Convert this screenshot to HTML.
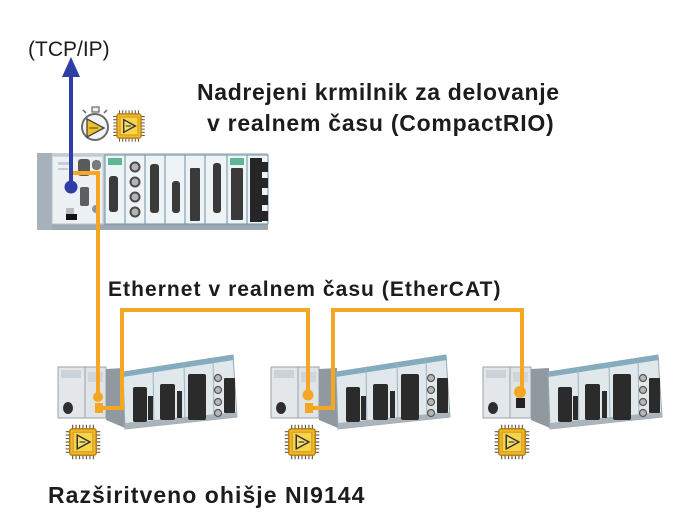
<!DOCTYPE html>
<html><head><meta charset="utf-8"><style>
html,body{margin:0;padding:0;background:#fff;}
svg{display:block;}
text{font-family:"Liberation Sans",Arial,sans-serif;fill:#1c1c1c;}
.b{font-weight:bold;}
</style></head><body>
<svg width="700" height="531" viewBox="0 0 700 531" xmlns="http://www.w3.org/2000/svg">
<defs>
  <g id="chip">
    <g stroke="#6b5a3a" stroke-width="1">
      <line x1="-9" y1="-15" x2="-9" y2="15"/><line x1="-6" y1="-15" x2="-6" y2="15"/><line x1="-3" y1="-15" x2="-3" y2="15"/><line x1="0" y1="-15" x2="0" y2="15"/><line x1="3" y1="-15" x2="3" y2="15"/><line x1="6" y1="-15" x2="6" y2="15"/><line x1="9" y1="-15" x2="9" y2="15"/>
      <line x1="-15" y1="-9" x2="15" y2="-9"/><line x1="-15" y1="-6" x2="15" y2="-6"/><line x1="-15" y1="-3" x2="15" y2="-3"/><line x1="-15" y1="0" x2="15" y2="0"/><line x1="-15" y1="3" x2="15" y2="3"/><line x1="-15" y1="6" x2="15" y2="6"/><line x1="-15" y1="9" x2="15" y2="9"/>
    </g>
    <rect x="-11.5" y="-11.5" width="23" height="23" rx="2" fill="#f0b92a" stroke="#b27a12" stroke-width="1.2"/>
    <rect x="-8.5" y="-8.5" width="17" height="17" fill="#f8d44a" stroke="#d69a1e" stroke-width="1"/>
    <polygon points="-5,-6 6,0 -5,6" fill="#f7e06a" stroke="#333" stroke-width="1.3"/>
    <line x1="-3" y1="0" x2="2" y2="0" stroke="#333" stroke-width="1"/>
  </g>
  <g id="chassis">
    <rect x="0" y="367" width="27" height="51" fill="#e3e7ea" stroke="#9aa3a9" stroke-width="1"/>
    <rect x="3" y="370" width="20" height="8" fill="#ccd3d8"/>
    <ellipse cx="10" cy="408" rx="5" ry="6" fill="#2e2e2e"/>
    <rect x="27" y="367" width="21" height="51" fill="#dfe4e7" stroke="#9aa3a9" stroke-width="1"/>
    <rect x="30" y="372" width="15" height="10" fill="#cfd6db"/>
    <polygon points="48,369 66,368 67,428 48,420" fill="#8f999f"/>
    <polygon points="65,372 175,355 179,417 67,429" fill="#e1e8ec" stroke="#9aa8b0" stroke-width="1"/>
    <polygon points="65,372 175,355 176,360 65,377" fill="#84abbe"/>
    <polygon points="67,423 179,412 179,417 67,429" fill="#aab4ba"/>
    <g stroke="#9db2bf" stroke-width="1">
      <line x1="95" y1="368" x2="96" y2="425"/>
      <line x1="126" y1="363" x2="127" y2="422"/>
      <line x1="155" y1="358" x2="156" y2="419"/>
    </g>
    <g fill="#2b2b2b">
      <rect x="75" y="387" width="14" height="35" rx="2"/>
      <rect x="90" y="396" width="5" height="24"/>
      <rect x="102" y="384" width="15" height="36" rx="2"/>
      <rect x="119" y="391" width="5" height="27"/>
      <rect x="130" y="374" width="18" height="46" rx="2"/>
      <rect x="166" y="378" width="11" height="35" rx="1"/>
    </g>
    <g fill="#b7b7b7" stroke="#555" stroke-width="1.2">
      <circle cx="160" cy="378" r="3.5"/><circle cx="160" cy="390" r="3.5"/><circle cx="160" cy="402" r="3.5"/><circle cx="160" cy="413" r="3.5"/>
    </g>
  </g>
</defs>

<!-- ===== Top CompactRIO ===== -->
<rect x="37" y="153" width="231" height="77" fill="#c6cfd6"/>
<rect x="37" y="224" width="231" height="6" fill="#9ea8b0"/>
<rect x="37" y="153" width="15" height="77" fill="#a7b1b9"/>
<rect x="52" y="156" width="51" height="68" fill="#eef1f3" stroke="#b8c0c6" stroke-width="1"/>
<rect x="78" y="159" width="12" height="17" rx="3" fill="#5a5a5a"/>
<rect x="92" y="160" width="9" height="10" rx="4" fill="#7a7a7a"/>
<rect x="80" y="187" width="9" height="19" rx="2" fill="#5e5e5e"/>
<rect x="66" y="208" width="8" height="9" fill="#b6bcc0"/>
<rect x="66" y="214" width="11" height="6" fill="#111"/>
<circle cx="96" cy="209" r="4" fill="#8d9398"/>
<rect x="58" y="162" width="14" height="3" fill="#c7cdd2"/>
<rect x="58" y="168" width="10" height="2" fill="#c7cdd2"/>
<g stroke="#6f8fa4" stroke-width="1" fill="#eef3f6">
  <rect x="105" y="155" width="20" height="69"/>
  <rect x="125" y="155" width="20" height="69"/>
  <rect x="145" y="155" width="20" height="69"/>
  <rect x="165" y="155" width="20" height="69"/>
  <rect x="185" y="155" width="20" height="69"/>
  <rect x="205" y="155" width="22" height="69"/>
  <rect x="227" y="155" width="20" height="69"/>
  <rect x="247" y="155" width="21" height="69"/>
</g>
<rect x="108" y="158" width="14" height="7" fill="#5cb893"/>
<rect x="230" y="158" width="14" height="7" fill="#5cb893"/>
<g fill="#3a3a3a">
  <rect x="109" y="176" width="9" height="36" rx="3"/>
  <rect x="150" y="164" width="9" height="49" rx="3"/>
  <rect x="172" y="181" width="8" height="32" rx="3"/>
  <rect x="190" y="168" width="10" height="53" rx="1"/>
  <rect x="213" y="163" width="8" height="50" rx="3"/>
  <rect x="231" y="168" width="12" height="52" rx="1"/>
</g>
<g fill="#b5b5b5" stroke="#4a4a4a" stroke-width="2">
  <circle cx="135" cy="167" r="4.5"/><circle cx="135" cy="182" r="4.5"/><circle cx="135" cy="197" r="4.5"/><circle cx="135" cy="212" r="4.5"/>
</g>
<rect x="250" y="158" width="12" height="64" fill="#262626"/>
<g fill="#262626">
  <rect x="261" y="162" width="7" height="10"/><rect x="261" y="178" width="7" height="10"/><rect x="261" y="195" width="7" height="10"/><rect x="261" y="211" width="7" height="10"/>
</g>

<!-- stopwatch + chip (top) -->
<rect x="92" y="107" width="7" height="5" fill="#eee" stroke="#666" stroke-width="1.2"/>
<line x1="86" y1="113" x2="83" y2="110" stroke="#666" stroke-width="1.5"/>
<line x1="104" y1="113" x2="107" y2="110" stroke="#666" stroke-width="1.5"/>
<circle cx="95" cy="127" r="13" fill="#f4f4f4" stroke="#6a6a6a" stroke-width="2"/>
<polygon points="87,119 104,128 87,137" fill="#f1c21f" stroke="#444" stroke-width="1.3"/>
<line x1="89" y1="128" x2="98" y2="128" stroke="#444" stroke-width="1"/>
<use href="#chip" transform="translate(129,126) scale(1.05)"/>

<!-- blue arrow (TCP/IP) -->
<line x1="71" y1="74" x2="71" y2="187" stroke="#2f3da6" stroke-width="4"/>
<polygon points="71,57 62,77 80,77" fill="#2f3da6"/>
<circle cx="71" cy="187" r="6.5" fill="#2f3da6"/>

<!-- ===== Bottom chassis ===== -->
<use href="#chassis" x="58" y="0"/>
<use href="#chassis" x="271" y="0"/>
<use href="#chassis" x="483" y="0"/>
<rect x="516" y="398" width="9" height="10" fill="#222"/>

<!-- orange EtherCAT lines -->
<g fill="none" stroke="#f5a623" stroke-width="4" stroke-linejoin="miter">
  <polyline points="73,173 98,173 98,397"/>
  <polyline points="98,408 122,408 122,310 308,310 308,395"/>
  <polyline points="308,408 333,408 333,310 522,310 522,392"/>
</g>
<g fill="#f5a623">
  <circle cx="98" cy="397" r="5"/>
  <rect x="95" y="403" width="8" height="10"/>
  <circle cx="308" cy="395" r="5.5"/>
  <rect x="305" y="403" width="8" height="10"/>
  <circle cx="520" cy="392" r="6"/>
</g>

<!-- chips -->
<use href="#chip" transform="translate(83,442) scale(1.15)"/>
<use href="#chip" transform="translate(302,442) scale(1.15)"/>
<use href="#chip" transform="translate(512,442) scale(1.15)"/>

<!-- text -->
<text x="28" y="56" font-size="21">(TCP/IP)</text>
<text class="b" x="197" y="100" font-size="23" letter-spacing="0.65">Nadrejeni krmilnik za delovanje</text>
<text class="b" x="207" y="131" font-size="23" letter-spacing="0.75">v realnem času (CompactRIO)</text>
<text class="b" x="108" y="296" font-size="21" letter-spacing="1.05">Ethernet v realnem času (EtherCAT)</text>
<text class="b" x="48" y="503" font-size="23" letter-spacing="1.05">Razširitveno ohišje NI9144</text>
</svg>
</body></html>
